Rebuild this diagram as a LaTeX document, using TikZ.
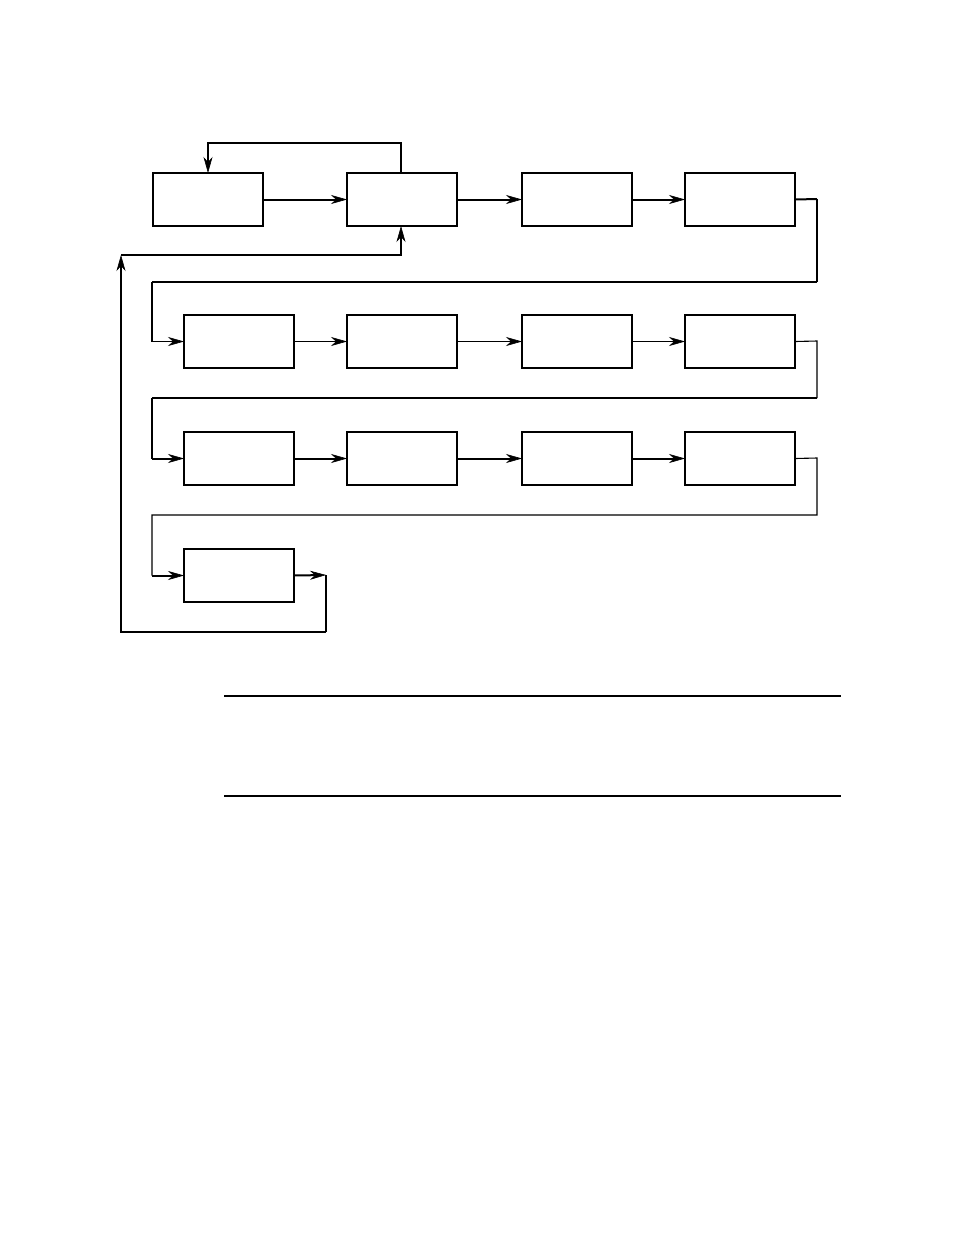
\documentclass[tikz,border=0pt]{standalone}
\usetikzlibrary{arrows.meta}
\begin{document}
\begin{tikzpicture}[x=1pt,y=-1pt,
  blk/.style={draw,line width=2pt,minimum width=110pt,minimum height=53pt,inner sep=0pt,outer sep=0pt,anchor=north west},
  thk/.style={line width=2pt},
  thn/.style={line width=1.1pt},
  arr/.style={-{Stealth[length=16pt,width=9pt,inset=5pt,line width=0.6pt]}},
  rule/.style={line width=1.1pt}]
\useasboundingbox (0,0) rectangle (954,1235);
% row 1
\node[blk] (b1) at (153,173) {};
\node[blk] (b2) at (347,173) {};
\node[blk] (b3) at (522,173) {};
\node[blk] (b4) at (685,173) {};
% row 2
\node[blk] (b5) at (184,315) {};
\node[blk] (b6) at (347,315) {};
\node[blk] (b7) at (522,315) {};
\node[blk] (b8) at (685,315) {};
% row 3
\node[blk] (b9) at (184,432) {};
\node[blk] (b10) at (347,432) {};
\node[blk] (b11) at (522,432) {};
\node[blk] (b12) at (685,432) {};
% row 4
\node[blk] (b13) at (184,549) {};
% coordinates
\coordinate (tl) at (208,143);
\coordinate (tr) at (401,143);
\coordinate (r1a) at (817,199);
\coordinate (r1b) at (817,282);
\coordinate (r1c) at (152,282);
\coordinate (r2a) at (817,341);
\coordinate (r2b) at (817,398);
\coordinate (r2c) at (152,398);
\coordinate (r3a) at (817,458);
\coordinate (r3b) at (817,515);
\coordinate (r3c) at (152,515);
\coordinate (o13) at (326,575);
\coordinate (o13b) at (326,632);
\coordinate (bl) at (121,632);
\coordinate (fb) at (121,255);
\coordinate (fb2) at (401,255);
% row 1 connectors
\draw[thk,arr] (b1.east) -- (b2.west);
\draw[thk,arr] (b2.east) -- (b3.west);
\draw[thk,arr] (b3.east) -- (b4.west);
\draw[thk,arr] (b2.north -| tr) -- (tr) -- (tl) -- (b1.north -| tl);
\draw[thk] (b4.east) -- (r1a);
\draw[thn] (r1a) -- (r1b);
\draw[thk] (r1b) -- (r1c);
\draw[thn,arr] (r1c) -- (r1c |- b5.west) -- (b5.west);
% row 2 connectors
\draw[thn,arr] (b5.east) -- (b6.west);
\draw[thn,arr] (b6.east) -- (b7.west);
\draw[thn,arr] (b7.east) -- (b8.west);
\draw[thn] (b8.east) -- (r2a) -- (r2b);
\draw[thk] (r2b) -- (r2c);
\draw[thn] (r2c) -- (r2c |- b9.west);
\draw[thk,arr] (r2c |- b9.west) -- (b9.west);
% row 3 connectors
\draw[thk,arr] (b9.east) -- (b10.west);
\draw[thk,arr] (b10.east) -- (b11.west);
\draw[thk,arr] (b11.east) -- (b12.west);
\draw[thn] (b12.east) -- (r3a) -- (r3b) -- (r3c) -- (r3c |- b13.west);
\draw[thk,arr] (r3c |- b13.west) -- (b13.west);
% row 4 and feedback
\draw[thk,arr] (b13.east) -- (o13);
\draw[thk] (o13) -- (o13b);
\draw[thn,arr] (o13b) -- (bl) -- (fb);
\draw[thk,arr] (fb) -- (fb2) -- (b2.south -| fb2);
% rules
\coordinate (ra) at (224,696);
\coordinate (rb) at (841,696);
\coordinate (rc) at (224,796);
\coordinate (rd) at (841,796);
\draw[rule] (ra) -- (rb);
\draw[rule] (rc) -- (rd);
\end{tikzpicture}
\end{document}
